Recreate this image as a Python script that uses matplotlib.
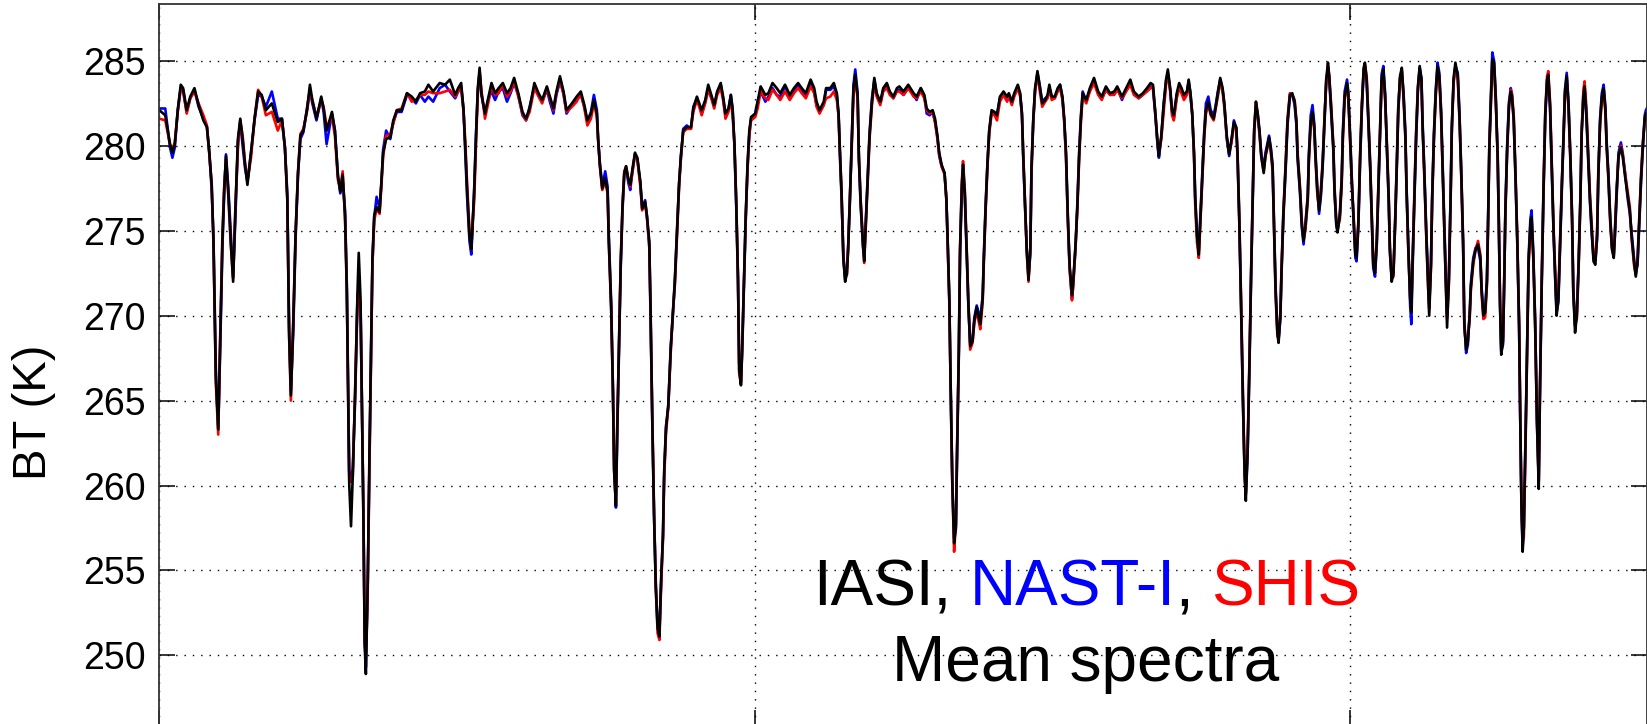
import matplotlib
matplotlib.use("Agg")
import matplotlib.pyplot as plt

# mean brightness temperature spectra (cm-1, K)
wavenumber = [
    800.0, 801.0, 801.8, 802.2, 802.6, 803.1, 803.6, 804.0, 804.6, 805.2,
    805.9, 806.6, 807.4, 808.0, 808.4, 808.8, 809.1, 809.5, 809.9, 810.2,
    810.6, 810.9, 811.2, 811.6, 812.0, 812.4, 812.8, 813.2, 813.6, 814.0,
    814.4, 814.8, 815.4, 816.0, 816.6, 817.2, 817.9, 818.9, 819.9, 820.6,
    821.1, 821.5, 821.8, 822.1, 822.5, 822.9, 823.3, 823.7, 824.2, 824.8,
    825.3, 825.7, 826.4, 827.2, 827.6, 828.1, 829.0, 829.5, 830.0, 830.4,
    830.8,
    831.2, 831.5, 831.9, 832.2, 832.5, 832.9, 833.3, 833.5, 833.8, 834.0,
    834.3, 834.5, 834.7, 835.0, 835.3, 835.6, 835.8, 836.1, 836.5, 837.0,
    837.3, 837.6, 838.1, 838.8, 839.3, 839.9, 840.7, 841.6, 842.4, 843.1,
    843.8, 844.6, 845.2, 846.0, 847.1, 848.0, 848.8, 849.7, 850.2, 850.7,
    851.1, 851.4, 851.7, 852.1, 852.4, 852.6, 852.9, 853.2, 853.5, 853.8,
    854.1, 854.7, 855.3, 855.8, 856.4, 857.0, 857.7, 858.4, 859.0, 859.6,
    860.3, 861.0, 861.6, 862.2,
    863.0, 863.7, 864.3, 865.1, 865.6, 866.2, 866.7, 867.3, 867.9, 868.4,
    869.3, 870.1, 870.8, 871.4, 871.9, 872.5, 873.0, 873.5, 873.7, 874.0,
    874.4, 874.9, 875.3, 875.5, 875.9, 876.2, 876.4, 876.7, 876.9, 877.2,
    877.5, 877.8, 878.1, 878.4, 878.8, 879.1, 879.5, 879.9, 880.3, 880.8,
    881.1, 881.6, 881.9, 882.3, 882.5, 882.8, 883.1, 883.4, 883.7, 884.0,
    884.3, 884.6, 884.8, 885.1, 885.5, 885.9, 886.2, 886.6, 887.0, 887.3,
    887.6, 888.0, 888.6, 889.3, 889.7, 890.3, 890.7, 891.1, 891.7, 892.2,
    892.8,
    893.2, 893.7, 894.3, 894.7, 895.1, 895.6, 896.0, 896.3, 896.6, 896.9,
    897.2, 897.4, 897.7, 897.9, 898.2, 898.5, 898.8, 899.1, 899.4, 900.1,
    900.5, 901.0, 901.8, 902.3, 903.0, 903.7, 904.3, 905.1, 905.9, 906.6,
    907.3, 907.9, 908.6, 909.4, 910.0, 910.4, 910.9, 911.6, 912.0, 912.7,
    913.3, 913.8, 914.1, 914.3, 914.6, 914.9, 915.2, 915.5, 915.7, 916.0,
    916.3, 916.6, 916.9, 917.3, 917.5, 917.8, 918.2, 918.4, 918.7, 919.0,
    919.3, 919.7, 920.1, 920.5, 921.1, 921.6, 922.2, 922.7, 923.3, 923.9,
    924.3, 925.0, 925.8, 926.7, 927.2, 927.9, 928.5, 928.9, 929.4, 929.9,
    930.3, 930.7, 931.0, 931.4, 931.9, 932.2, 932.4, 932.7, 932.9, 933.2,
    933.5, 933.8, 934.0, 934.3, 934.5, 934.8, 935.0, 935.3, 935.6, 935.9,
    936.2, 936.6, 936.9, 937.3, 937.6, 937.9, 938.3, 938.5, 938.8, 939.1,
    939.4, 939.8, 940.3, 940.7, 941.2, 941.8, 942.4, 942.7, 943.2, 943.6,
    944.2, 944.6, 944.9, 945.1, 945.4, 945.7, 946.0, 946.3, 946.5, 946.8,
    947.1, 947.5, 947.9, 948.3, 948.8, 949.2, 949.5, 949.9, 950.4, 950.9,
    951.3, 951.7, 952.0, 952.3, 952.6, 952.9, 953.3, 953.5, 953.9, 954.2,
    954.5, 954.8,
    955.1, 955.7, 956.3, 957.0, 957.7, 958.3, 959.0, 959.7, 960.4, 960.9,
    961.7, 962.4, 963.1, 963.7, 964.5, 965.2, 965.9, 966.5, 966.9, 967.3,
    967.7, 967.9, 968.3, 968.7, 969.1, 969.4, 969.8, 970.1, 970.4, 970.9,
    971.3, 971.7, 972.1, 972.6, 972.9, 973.2, 973.5, 973.8, 974.0, 974.3,
    974.6, 974.9, 975.2, 975.5, 975.8, 976.2, 976.6, 977.1, 977.4, 977.8,
    978.2, 978.6, 978.9, 979.3, 979.7, 980.1, 980.5, 980.9, 981.1, 981.4,
    981.7, 982.0, 982.3, 982.5, 982.8, 983.1, 983.4, 983.7, 983.9, 984.2,
    984.5, 984.8, 985.1, 985.5, 985.8,
    986.4, 986.7, 987.0, 987.3, 987.5, 987.8, 988.0, 988.3, 988.5, 988.8,
    989.2, 989.5, 989.9, 990.3, 990.7, 991.0, 991.2, 991.6, 991.9, 992.2,
    992.5, 992.9, 993.1, 993.4, 993.7, 994.0, 994.2, 994.5, 994.8, 995.1,
    995.4, 995.7, 996.0, 996.3, 996.5, 996.8, 997.2, 997.4, 997.7, 997.9,
    998.3, 998.6, 998.8, 999.1, 999.5, 999.7, 1000.0, 1000.3, 1000.6, 1000.9,
    1001.1, 1001.4, 1001.7, 1002.0, 1002.3, 1002.5, 1002.8, 1003.1, 1003.4, 1003.7,
    1003.9, 1004.2, 1004.5, 1004.8, 1005.1, 1005.3, 1005.6, 1005.9, 1006.2, 1006.5,
    1006.7, 1007.0, 1007.3, 1007.6, 1007.9, 1008.1, 1008.4, 1008.7, 1009.0, 1009.3,
    1009.5, 1009.8, 1010.1, 1010.3, 1010.5, 1010.8, 1011.1, 1011.4, 1011.7, 1012.0,
    1012.2, 1012.5, 1012.8, 1013.1, 1013.3, 1013.6, 1013.8, 1014.1, 1014.4, 1014.7,
    1015.0, 1015.3, 1015.5, 1015.8, 1016.1, 1016.3, 1016.6, 1016.9, 1017.1,
    1017.4, 1017.7, 1018.1, 1018.4, 1018.7, 1019.0, 1019.2, 1019.5, 1019.8, 1020.1,
    1020.3, 1020.7, 1021.1, 1021.5, 1021.9, 1022.1, 1022.4, 1022.7, 1023.0, 1023.2,
    1023.4, 1023.7, 1023.9, 1024.2, 1024.5, 1024.8, 1025.0, 1025.2, 1025.4, 1025.7,
    1025.9, 1026.1, 1026.4, 1026.7, 1027.0, 1027.2, 1027.5, 1027.8, 1028.1, 1028.4,
    1028.6, 1028.8, 1029.0, 1029.2, 1029.5, 1029.8, 1030.0, 1030.3, 1030.5, 1030.8,
    1031.1, 1031.4, 1031.7, 1031.9, 1032.2, 1032.5, 1032.8, 1033.1, 1033.3, 1033.6,
    1033.9, 1034.2, 1034.5, 1034.7, 1035.0, 1035.3, 1035.6, 1035.9, 1036.1, 1036.4,
    1036.7, 1037.0, 1037.3, 1037.5, 1037.8, 1038.1, 1038.4, 1038.7, 1038.9, 1039.2,
    1039.4, 1039.7, 1040.0, 1040.3, 1040.6, 1040.9, 1041.2, 1041.5, 1041.7, 1042.0,
    1042.3, 1042.6, 1042.9, 1043.1, 1043.4, 1043.7, 1044.0, 1044.3, 1044.5, 1044.8,
    1045.1, 1045.5, 1045.8, 1046.2, 1046.6, 1047.0, 1047.3, 1047.7, 1048.0, 1048.3,
    1048.6, 1048.9, 1049.2, 1049.5, 1049.7, 1050.0,
]

bt_iasi = [
    282.1, 281.8, 280.1, 279.6, 280.1, 282.1, 283.6, 283.4, 282.1, 282.9,
    283.4, 282.4, 281.5, 281.1, 279.6, 277.7, 274.4, 266.3, 263.3, 268.0,
    274.4, 277.4, 279.4, 277.2, 274.4, 272.0, 276.4, 280.4, 281.6, 280.4,
    278.9, 277.7, 279.6, 281.6, 283.2, 283.0, 282.1, 282.5, 281.4, 281.6,
    279.9, 276.9, 269.0, 265.3, 269.5, 274.9, 278.4, 280.6, 280.9, 282.1,
    283.6, 282.7, 281.6, 282.9, 282.2, 280.9, 282.0, 280.9, 278.2, 277.3,
    278.3,
    275.9, 271.5, 260.1, 257.6, 260.6, 265.5, 271.5, 273.7, 271.0, 265.8,
    257.6, 250.6, 248.9, 254.1, 262.0, 269.0, 273.4, 275.9, 276.4, 276.1,
    277.9, 279.6, 280.4, 280.5, 281.5, 282.1, 282.1, 283.1, 282.9, 282.6,
    283.1, 283.2, 283.6, 283.2, 283.7, 283.6, 283.9, 283.0, 283.4, 283.7,
    282.1, 279.9, 277.4, 274.7, 273.9, 275.2, 277.4, 280.6, 283.4, 284.6,
    283.1, 281.9, 282.9, 283.7, 283.1, 283.4, 283.7, 283.1, 283.4, 284.0,
    283.1, 282.0, 281.6, 282.2,
    283.7, 283.1, 282.7, 283.5, 282.9, 282.2, 283.2, 284.1, 283.2, 282.1,
    282.5, 282.9, 283.2, 282.4, 281.5, 281.9, 282.7, 281.9, 280.4, 278.9,
    277.5, 278.1, 277.3, 274.4, 270.5, 265.5, 260.8, 258.8, 263.0, 268.0,
    273.0, 276.4, 278.4, 278.8, 278.0, 277.7, 278.7, 279.6, 279.3, 277.9,
    276.3, 276.7, 275.9, 274.4, 270.7, 264.0, 258.3, 253.9, 251.6, 251.1,
    254.6, 257.1, 260.8, 263.3, 264.8, 268.0, 269.8, 272.0, 275.2, 277.7,
    279.4, 280.9, 281.1, 281.1, 282.2, 282.9, 282.5, 282.1, 282.7, 283.6,
    282.9,
    282.4, 283.2, 283.7, 282.9, 281.9, 282.2, 283.0, 282.1, 280.2, 276.7,
    272.2, 266.8, 265.9, 268.0, 272.0, 275.9, 278.9, 280.9, 281.7, 281.9,
    282.6, 283.5, 283.0, 283.1, 283.7, 283.4, 283.1, 283.6, 283.0, 283.4,
    283.7, 283.4, 283.1, 283.9, 283.4, 282.6, 282.1, 282.6, 283.4, 283.4,
    283.7, 283.1, 281.9, 279.9, 277.2, 273.4, 272.0, 272.5, 273.9, 276.9,
    280.1, 283.4, 284.2, 282.9, 279.4, 276.7, 274.2, 273.2, 275.7, 278.2,
    280.6, 282.6, 284.0, 283.1, 282.6, 283.4, 283.7, 283.2, 282.9, 283.4,
    283.5, 283.2, 283.6, 283.1, 282.9, 283.4, 283.0, 282.2, 282.0, 282.1,
    281.6, 280.6, 279.6, 278.9, 278.4, 276.9, 274.7, 271.0, 266.3, 260.1,
    256.6, 257.6, 262.0, 268.0, 273.9, 277.7, 278.9, 277.2, 273.9, 270.7,
    268.2, 268.5, 269.7, 270.5, 270.0, 269.5, 271.0, 273.4, 276.4, 278.9,
    280.9, 282.1, 282.0, 281.8, 282.9, 283.2, 282.9, 283.1, 282.6, 283.1,
    283.6, 283.1, 281.9, 279.6, 276.7, 273.9, 272.1, 273.9, 278.7, 281.6,
    283.4, 284.4, 283.5, 282.5, 282.7, 283.0, 283.6, 282.9, 282.9, 283.4,
    283.6, 282.9, 281.6, 279.6, 275.9, 273.0, 271.2, 272.0, 274.2, 276.4,
    279.4, 281.6,
    283.1, 282.7, 283.4, 284.0, 283.2, 282.9, 283.5, 283.1, 283.2, 283.5,
    282.9, 283.4, 283.9, 283.2, 282.9, 283.1, 283.4, 283.7, 283.6, 281.9,
    280.1, 279.4, 280.6, 282.4, 283.9, 284.5, 283.4, 282.1, 281.8, 283.1,
    283.7, 283.4, 283.0, 283.2, 283.9, 283.1, 281.9, 279.6, 276.9, 274.7,
    273.6, 275.9, 278.2, 280.6, 282.1, 282.6, 281.9, 281.6, 282.2, 283.1,
    284.0, 283.4, 282.4, 280.6, 279.5, 280.4, 281.4, 281.1, 279.6, 275.7,
    270.7, 265.3, 260.8, 259.1, 262.0, 267.0, 272.7, 277.7, 280.9, 282.6,
    281.9, 280.9, 279.4, 278.4, 279.4,
    280.5, 279.8, 278.7, 274.4, 271.5, 269.0, 268.4, 270.0, 272.7, 275.9,
    278.9, 281.4, 283.0, 283.1, 282.6, 281.4, 279.4, 277.4, 275.4, 274.4,
    275.2, 276.9, 279.4, 281.4, 282.0, 281.1, 279.4, 277.4, 276.2, 277.2,
    278.9, 281.4, 283.9, 284.9, 284.1, 282.4, 279.9, 277.4, 275.4, 274.9,
    275.9, 277.9, 280.6, 282.9, 283.7, 283.1, 280.6, 277.9, 275.7, 273.6,
    273.4, 275.4, 279.4, 282.4, 284.6, 284.9, 283.9, 281.4, 278.7, 275.4,
    273.0, 272.5, 274.4, 277.9, 281.4, 283.9, 284.5, 282.9, 279.9, 276.9,
    273.9, 272.0, 272.5, 275.7, 279.4, 282.1, 284.1, 284.6, 282.9, 280.6,
    277.4, 273.9, 271.0, 270.2, 273.0, 276.9, 280.6, 283.4, 284.7, 283.9,
    281.1, 278.2, 274.9, 272.0, 270.0, 273.0, 276.9, 280.6, 283.1, 284.7,
    284.1, 281.9, 279.4, 275.7, 272.0, 269.3, 272.0, 277.0, 281.0,
    284.0, 284.9, 284.1, 281.6, 278.2, 274.2, 269.5, 268.0, 268.5, 270.0,
    271.7, 273.2, 273.9, 274.2, 273.4, 271.5, 270.0, 270.2, 272.0, 275.7,
    279.9, 283.1, 285.1, 284.9, 282.6, 279.4, 275.4, 270.7, 267.7, 268.5,
    272.0, 276.2, 279.9, 282.4, 283.2, 282.9, 281.6, 278.2, 274.4, 269.5,
    263.8, 258.8, 256.1, 257.6, 263.0, 269.0, 273.2, 275.4, 275.8, 273.4,
    269.5, 263.8, 259.8, 265.5, 272.0, 277.4, 281.9, 283.9, 284.2, 282.4,
    278.7, 274.9, 272.0, 270.0, 271.0, 274.4, 277.9, 280.9, 283.1, 284.1,
    282.4, 279.4, 275.7, 271.5, 269.0, 270.0, 273.0, 276.9, 280.6, 282.9,
    283.5, 281.9, 279.4, 276.9, 275.0, 273.2, 273.0, 274.7, 278.2, 281.4,
    282.9, 283.4, 282.1, 280.1, 278.2, 275.7, 273.9, 273.4, 274.9, 277.4,
    279.4, 279.9, 279.4, 278.2, 277.2, 276.2, 274.7, 273.2, 272.3, 273.2,
    275.7, 278.2, 280.1, 281.6, 281.9, 282.0,
]

bt_nast = [
    282.2, 282.2, 279.9, 279.3, 279.9, 282.1, 283.4, 283.2, 282.0, 282.8,
    283.3, 282.3, 281.6, 281.1, 279.6, 277.4, 274.6, 266.8, 263.3, 267.6,
    274.0, 277.2, 279.5, 277.5, 274.9, 272.3, 276.0, 280.2, 281.4, 280.0,
    278.7, 277.9, 279.6, 281.5, 283.0, 282.9, 282.3, 283.2, 281.6, 281.6,
    279.9, 277.2, 269.4, 265.6, 269.0, 274.6, 278.3, 280.4, 280.8, 282.2,
    283.3, 282.5, 281.5, 282.8, 282.0, 280.1, 281.9, 280.9, 278.3, 277.2,
    278.0,
    276.2, 271.8, 260.8, 260.5, 261.0, 265.2, 271.0, 271.4, 270.6, 265.7,
    257.8, 251.0, 249.3, 254.0, 261.5, 268.6, 273.1, 275.8, 277.0, 276.3,
    277.8, 279.8, 280.9, 280.4, 281.4, 282.0, 282.0, 283.0, 282.8, 282.5,
    283.0, 282.6, 282.9, 282.6, 283.4, 283.6, 283.2, 282.8, 283.2, 283.5,
    282.2, 279.5, 277.0, 274.4, 273.6, 275.0, 277.6, 280.7, 283.3, 284.3,
    283.0, 281.9, 282.8, 283.2, 282.7, 283.2, 283.4, 282.6, 283.1, 283.7,
    283.0, 281.8, 281.5, 282.3,
    283.5, 283.0, 282.6, 283.3, 282.6, 281.9, 283.0, 283.8, 283.1, 281.9,
    282.4, 282.7, 283.0, 282.3, 281.4, 282.0, 283.0, 282.1, 280.5, 279.0,
    277.6, 278.5, 277.6, 274.8, 270.8, 265.8, 261.0, 258.7, 262.6, 267.7,
    272.8, 276.2, 278.3, 278.7, 277.8, 277.4, 278.6, 279.5, 279.2, 277.8,
    276.4, 276.8, 275.9, 274.0, 270.2, 263.8, 258.2, 254.2, 251.8, 251.4,
    254.4, 257.0, 260.6, 263.5, 264.6, 268.2, 269.6, 272.2, 275.4, 277.8,
    279.2, 281.0, 281.2, 281.0, 282.3, 282.8, 282.4, 281.9, 282.6, 283.4,
    282.8,
    282.3, 283.1, 283.6, 282.8, 281.8, 282.1, 283.0, 282.2, 280.0, 276.5,
    272.0, 267.2, 266.1, 267.8, 271.8, 275.6, 278.7, 280.7, 281.6, 281.9,
    282.6, 283.2, 282.6, 282.9, 283.4, 283.0, 282.9, 283.5, 282.9, 283.3,
    283.6, 283.2, 283.0, 283.8, 283.2, 282.4, 282.0, 282.4, 283.3, 283.3,
    283.5, 283.0, 281.7, 279.6, 276.9, 273.6, 272.1, 272.8, 274.0, 276.7,
    280.3, 283.6, 284.5, 283.1, 279.2, 276.5, 274.0, 273.4, 275.9, 278.4,
    280.8, 282.8, 283.9, 283.0, 282.5, 283.3, 283.6, 283.1, 282.8, 283.3,
    283.3, 283.0, 283.4, 283.0, 282.7, 283.4, 282.9, 281.9, 281.8, 282.0,
    281.4, 280.5, 279.4, 278.8, 278.4, 276.8, 274.6, 270.9, 266.4, 260.3,
    256.9, 257.4, 261.8, 267.8, 273.6, 277.4, 278.6, 277.0, 273.7, 270.5,
    268.4, 268.7, 269.9, 270.6, 270.2, 269.8, 271.2, 273.6, 276.6, 279.0,
    280.9, 282.0, 281.9, 281.8, 282.8, 283.1, 282.8, 283.0, 282.6, 283.0,
    283.5, 283.0, 281.7, 279.4, 276.5, 274.0, 272.3, 273.6, 278.4, 281.4,
    283.2, 284.3, 283.5, 282.6, 282.8, 282.9, 283.4, 282.9, 282.8, 283.3,
    283.6, 282.8, 281.5, 279.4, 275.8, 272.8, 271.0, 271.8, 274.0, 276.6,
    279.6, 281.8,
    283.2, 282.6, 283.3, 283.8, 283.1, 282.8, 283.3, 283.0, 283.1, 283.4,
    282.7, 283.3, 283.7, 283.1, 282.8, 283.0, 283.3, 283.5, 283.4, 281.8,
    279.9, 279.3, 280.5, 282.5, 283.8, 284.3, 283.2, 282.0, 281.6, 283.0,
    283.5, 283.2, 282.9, 283.1, 283.8, 283.1, 281.8, 279.5, 277.0, 274.8,
    273.8, 276.2, 278.5, 280.8, 282.5, 282.9, 282.1, 281.8, 282.3, 283.2,
    283.9, 283.3, 282.5, 280.4, 279.4, 280.3, 281.5, 281.0, 279.4, 275.5,
    270.5, 265.0, 260.6, 259.6, 261.8, 266.8, 272.5, 277.5, 280.7, 282.4,
    281.8, 280.8, 279.5, 278.7, 279.6,
    280.6, 279.9, 278.9, 274.6, 271.7, 269.2, 268.6, 269.8, 272.5, 275.7,
    278.7, 281.2, 282.9, 283.0, 282.4, 281.2, 279.2, 277.2, 275.2, 274.2,
    275.4, 277.1, 279.6, 281.8, 282.4, 281.3, 279.6, 277.6, 276.0, 277.0,
    278.7, 281.2, 283.8, 284.6, 284.0, 282.2, 279.7, 277.2, 275.3, 275.0,
    276.1, 278.1, 280.9, 283.2, 283.9, 283.2, 280.8, 278.1, 275.5, 273.4,
    273.2, 275.2, 279.1, 282.2, 284.4, 284.7, 283.7, 281.2, 278.5, 275.2,
    272.8, 272.3, 274.2, 277.7, 281.2, 284.2, 284.7, 283.1, 279.7, 276.7,
    273.7, 272.2, 272.7, 275.5, 279.2, 281.9, 284.0, 284.4, 283.1, 280.8,
    277.6, 274.1, 270.6, 269.5, 272.6, 276.6, 280.3, 283.2, 284.6, 284.0,
    281.3, 278.4, 275.1, 272.3, 270.6, 273.2, 277.1, 280.8, 283.3, 284.9,
    284.3, 282.1, 279.6, 275.9, 272.3, 270.0, 272.2, 277.2, 281.2,
    283.8, 284.7, 284.3, 281.8, 278.4, 274.4, 269.7, 267.8, 268.3, 270.2,
    271.9, 273.4, 274.0, 274.0, 273.2, 271.7, 270.2, 270.4, 272.2, 275.9,
    280.1, 283.3, 285.5, 285.0, 282.8, 279.2, 275.2, 270.5, 267.9, 268.3,
    271.8, 276.4, 280.1, 282.6, 283.4, 283.0, 281.4, 278.0, 274.2, 269.3,
    263.6, 258.6, 256.4, 257.5, 263.3, 269.3, 273.5, 275.7, 276.2, 273.6,
    269.7, 264.0, 260.2, 265.2, 271.7, 277.1, 281.7, 283.8, 284.0, 282.2,
    278.5, 274.7, 271.8, 270.2, 270.8, 274.2, 277.7, 281.1, 283.3, 284.3,
    282.6, 279.6, 275.9, 271.7, 269.4, 270.2, 273.2, 277.1, 280.8, 283.0,
    283.3, 281.7, 279.2, 276.7, 274.8, 273.4, 273.2, 274.5, 278.0, 281.6,
    283.1, 283.6, 282.3, 280.3, 278.4, 275.9, 274.1, 273.6, 274.7, 277.2,
    279.6, 280.2, 279.6, 278.4, 277.0, 276.0, 274.9, 273.4, 272.5, 273.0,
    275.5, 278.0, 279.9, 281.8, 282.1, 282.3,
]

bt_shis = [
    281.6, 281.5, 280.1, 279.8, 280.2, 282.0, 283.4, 283.3, 281.9, 282.8,
    283.2, 282.5, 281.8, 281.2, 279.5, 277.8, 274.2, 266.0, 263.0, 268.4,
    274.8, 277.6, 279.2, 277.0, 274.2, 272.2, 276.6, 279.8, 281.5, 280.6,
    279.0, 277.9, 279.3, 281.6, 283.3, 282.9, 281.8, 282.0, 280.9, 281.5,
    279.9, 276.8, 268.8, 265.0, 269.8, 275.0, 278.5, 280.7, 281.0, 282.0,
    283.2, 282.7, 281.7, 282.7, 282.3, 281.1, 281.7, 280.6, 278.0, 277.5,
    278.5,
    275.7, 271.3, 260.5, 260.2, 260.6, 265.8, 271.3, 271.0, 270.4, 265.6,
    258.2, 250.8, 250.0, 253.6, 261.2, 268.2, 273.0, 275.6, 276.3, 276.0,
    277.6, 279.4, 280.6, 280.7, 281.3, 282.1, 282.2, 283.1, 282.6, 282.7,
    283.0, 283.0, 283.2, 283.1, 283.1, 283.2, 283.3, 282.9, 283.2, 283.4,
    282.0, 280.2, 277.8, 275.0, 274.0, 275.4, 276.8, 280.2, 283.0, 284.4,
    283.3, 281.6, 282.6, 283.5, 283.0, 283.1, 283.6, 282.9, 283.2, 283.8,
    282.9, 281.9, 281.5, 282.0,
    283.4, 282.9, 282.5, 283.4, 282.8, 282.1, 283.1, 283.9, 283.0, 282.0,
    282.3, 282.6, 283.1, 282.2, 281.2, 281.6, 282.5, 281.7, 280.4, 278.8,
    277.4, 277.9, 277.2, 274.3, 270.3, 265.3, 260.9, 259.0, 263.2, 268.2,
    273.2, 276.5, 278.5, 278.8, 278.0, 277.6, 278.5, 279.5, 279.2, 277.6,
    276.2, 276.6, 275.8, 274.2, 270.6, 264.2, 258.6, 254.0, 251.3, 250.9,
    254.2, 256.8, 260.4, 263.0, 264.7, 267.8, 269.9, 271.8, 275.0, 277.5,
    279.3, 280.8, 281.0, 281.0, 282.0, 282.7, 282.3, 281.8, 282.5, 283.3,
    282.7,
    282.2, 283.0, 283.4, 282.7, 281.6, 282.0, 282.7, 281.8, 280.1, 276.9,
    272.4, 266.6, 266.0, 268.2, 272.0, 275.8, 278.6, 280.6, 281.5, 281.7,
    282.2, 283.2, 282.8, 282.7, 283.3, 283.0, 282.7, 283.2, 282.7, 283.1,
    283.4, 283.1, 282.8, 283.5, 283.1, 282.3, 281.9, 282.4, 282.8, 282.9,
    283.2, 282.7, 281.8, 279.9, 277.3, 273.2, 272.3, 272.4, 274.0, 277.1,
    279.8, 283.0, 284.0, 282.7, 279.6, 276.9, 274.4, 273.1, 275.5, 277.9,
    280.4, 282.4, 283.7, 282.9, 282.4, 283.2, 283.4, 283.0, 282.8, 283.2,
    283.2, 283.0, 283.4, 282.9, 282.8, 283.2, 282.8, 282.1, 281.9, 282.0,
    281.4, 280.4, 279.5, 278.8, 278.3, 276.9, 274.4, 270.7, 266.0, 260.0,
    256.1, 257.8, 262.3, 268.2, 274.0, 277.9, 279.1, 277.4, 274.1, 270.9,
    268.0, 268.4, 269.6, 270.3, 269.7, 269.2, 270.8, 273.2, 276.2, 278.7,
    280.7, 281.9, 281.8, 281.5, 282.6, 283.0, 282.6, 282.9, 282.4, 282.9,
    283.4, 282.9, 281.9, 279.6, 276.8, 273.7, 272.0, 274.0, 278.9, 281.5,
    283.3, 284.2, 283.2, 282.3, 282.6, 282.8, 283.4, 282.7, 282.8, 283.2,
    283.4, 282.7, 281.4, 279.2, 275.6, 272.8, 270.9, 271.7, 274.1, 276.2,
    279.2, 281.4,
    282.9, 282.5, 283.2, 283.7, 283.0, 282.7, 283.3, 283.0, 283.0, 283.3,
    282.8, 283.2, 283.6, 283.0, 282.8, 283.0, 283.2, 283.4, 283.5, 282.0,
    280.0, 279.6, 280.4, 282.0, 283.6, 284.2, 283.3, 281.8, 281.5, 282.8,
    283.4, 283.1, 282.7, 283.0, 283.6, 282.9, 281.9, 279.3, 276.5, 274.3,
    273.4, 275.7, 278.0, 280.4, 281.9, 282.4, 281.8, 281.5, 282.1, 282.9,
    283.8, 283.2, 282.2, 280.5, 279.6, 280.2, 281.2, 281.0, 279.7, 275.9,
    271.0, 265.6, 260.5, 259.5, 262.3, 267.3, 272.9, 277.9, 281.0, 282.6,
    281.8, 280.6, 279.3, 278.5, 279.4,
    280.3, 279.6, 278.5, 274.2, 271.2, 268.8, 268.6, 270.2, 272.9, 276.1,
    279.1, 281.6, 283.1, 283.0, 282.7, 281.5, 279.6, 277.6, 275.6, 274.5,
    275.0, 276.7, 279.2, 281.2, 281.8, 280.9, 279.2, 277.2, 276.3, 277.4,
    279.1, 281.6, 283.6, 284.7, 284.2, 282.6, 280.1, 277.6, 275.6, 275.1,
    275.7, 277.7, 280.4, 282.7, 283.5, 282.9, 280.4, 277.7, 275.9, 273.8,
    273.5, 275.6, 279.6, 282.6, 284.5, 284.8, 284.1, 281.6, 278.9, 275.6,
    273.2, 272.7, 274.6, 278.1, 281.6, 283.7, 284.3, 282.7, 280.1, 277.1,
    274.1, 272.2, 272.3, 275.9, 279.6, 282.3, 283.9, 284.5, 282.7, 280.4,
    277.2, 273.7, 271.2, 270.5, 273.2, 277.1, 280.8, 283.5, 284.5, 283.7,
    280.9, 278.0, 274.7, 271.8, 270.4, 272.8, 276.7, 280.4, 282.9, 284.5,
    284.0, 281.7, 279.2, 275.5, 271.8, 269.8, 271.8, 276.8, 280.8,
    283.7, 284.6, 283.9, 281.4, 278.0, 274.0, 269.3, 268.2, 268.8, 269.8,
    271.5, 273.0, 273.9, 274.4, 273.6, 271.3, 269.8, 269.9, 271.8, 275.5,
    279.7, 282.9, 284.9, 284.7, 282.4, 279.6, 275.6, 270.9, 268.0, 268.7,
    272.2, 276.0, 279.7, 282.2, 283.3, 283.1, 281.8, 278.4, 274.6, 269.7,
    264.0, 258.9, 256.7, 257.0, 262.7, 268.8, 273.0, 275.2, 275.6, 273.2,
    269.3, 263.6, 260.3, 265.7, 272.2, 277.6, 282.1, 284.1, 284.4, 282.6,
    278.9, 275.1, 272.2, 270.4, 271.2, 274.6, 278.1, 280.7, 282.9, 283.9,
    282.2, 279.2, 275.5, 271.3, 269.5, 269.8, 272.8, 276.7, 280.8, 283.3,
    283.8, 282.3, 279.8, 277.2, 275.3, 273.5, 273.3, 274.9, 278.4, 281.2,
    282.7, 283.2, 282.0, 279.9, 278.0, 275.5, 274.0, 273.5, 275.1, 277.6,
    279.3, 280.0, 279.5, 278.4, 277.4, 276.4, 274.5, 273.0, 272.4, 273.4,
    275.9, 278.4, 280.3, 281.4, 281.7, 281.8,
]

yticks = [250, 255, 260, 265, 270, 275, 280, 285]
xticks = [800, 900, 1000]

plt.rcParams['font.family'] = ['Liberation Sans', 'DejaVu Sans']

W, H = 1647, 724
fig = plt.figure(figsize=(W / 100, H / 100), dpi=100)
ax = fig.add_axes([159.3 / W, -2 / H, (1646.5 - 159.3) / W, 722.3 / H])

ax.plot(wavenumber, bt_nast, color='#0000ff', linewidth=1.9)
ax.plot(wavenumber, bt_shis, color='#ff0000', linewidth=1.9)
ax.plot(wavenumber, bt_iasi, color='black', linewidth=1.9)

ax.set_xlim(800, 1049.8)
ax.set_ylim(245.84, 288.37)
ax.set_xticks(xticks)
ax.set_yticks(yticks)
ax.set_xticklabels([])
ax.grid(True, color='black', linestyle=(0, (1, 5)), linewidth=1.0)
ax.tick_params(direction='in', length=11.5, width=1.1, top=True, right=True,
               labelsize=27, pad=9.5, colors='black')
for s in ax.spines.values():
    s.set_linewidth(1.3)
    s.set_color('#333333')

fig.text(34 / W, 1 - 412 / H, 'BT (K)', rotation=90, ha='center',
         va='center', fontsize=34)

# colored caption, pieces laid out with measured widths
fs = 46
fig.canvas.draw()
rend = fig.canvas.get_renderer()


def width(s):
    t = fig.text(0, 0, s, fontsize=fs)
    w = t.get_window_extent(rend).width
    t.remove()
    return w


full = 'IASI, NAST-I, SHIS'
x0 = 1086.5 - width(full) / 2
pieces = [
    ('IASI,', 'black', 0),
    ('NAST-I', '#0000ff', width('IASI, N') - width('N')),
    (',', 'black', width('IASI, NAST-I,') - width(',')),
    ('SHIS', '#ff0000', width('IASI, NAST-I, S') - width('S')),
]
for txt, col, off in pieces:
    fig.text((x0 + off) / W, (H - 605.7) / H, txt, color=col, fontsize=fs,
             ha='left', va='baseline')
fig.text(1086 / W, (H - 681.5) / H, 'Mean spectra', color='black',
         fontsize=fs, ha='center', va='baseline')

fig.savefig('out.png', dpi=100)
